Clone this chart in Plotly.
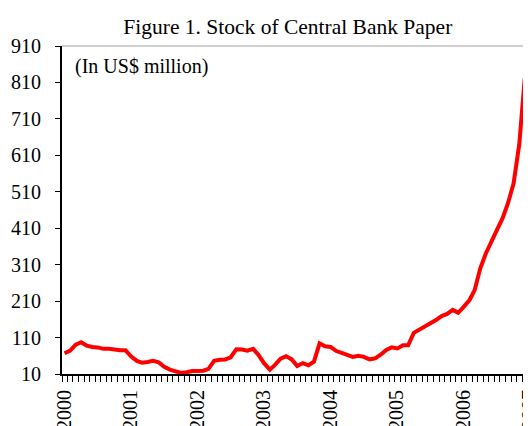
import pandas as pd
import plotly.graph_objects as go

# monthly stock, Jan 2000 - Dec 2006 (US$ million), plotted mid-month
months = pd.date_range("2000-01-01", periods=84, freq="MS") + pd.Timedelta(days=14)
stock = [
    67, 74, 90, 97, 88, 84, 83, 79, 79, 76, 75, 75,          # 2000
    58, 46, 41, 43, 46, 42, 30, 22, 16, 13, 15, 18,          # 2001
    18, 19, 24, 46, 49, 50, 56, 78, 77, 74, 79, 62,          # 2002
    39, 22, 35, 52, 59, 50, 32, 40, 34, 44, 94, 86,          # 2003
    84, 73, 68, 61, 57, 60, 57, 50, 53, 63, 76, 83,          # 2004
    80, 89, 89, 123, 131, 139, 148, 158, 169, 175, 186, 178,  # 2005
    195, 213, 240, 300, 340, 375, 405, 437, 480, 533, 640, 821,  # 2006
]
y_ticks = list(range(10, 911, 100))

FONT = "Liberation Serif, Times New Roman, serif"

fig = go.Figure()
fig.add_trace(go.Scatter(
    x=months, y=stock, mode="lines",
    line=dict(color="#ff0000", width=4),
    showlegend=False,
))

# page body adds an 8px offset, so the figure is sized to fit what is left
fig.update_layout(
    width=523, height=418,
    margin=dict(l=54, r=3, t=38, b=52),
    plot_bgcolor="white", paper_bgcolor="white",
    font=dict(family=FONT, size=20, color="black"),
    title=dict(text="Figure 1. Stock of Central Bank Paper", x=0.535, xanchor="center",
               y=0.955, yanchor="middle", font=dict(size=21.5)),
)

fig.update_xaxes(
    range=["2000-01-01", "2007-01-02"],
    tick0="2000-01-01", dtick="M12", tickformat="%Y", tickangle=-90,
    ticks="outside", ticklen=6, tickcolor="black",
    minor=dict(dtick="M1", ticks="outside", ticklen=6, tickcolor="black"),
    showline=True, linecolor="black", linewidth=2,
    showgrid=False, zeroline=False,
    automargin=False, ticklabeloverflow="allow", ticklabelshift=2,
)
fig.update_yaxes(
    range=[10, 910], tickvals=y_ticks,
    ticks="outside", ticklen=5, tickcolor="black", ticklabelstandoff=10,
    showline=True, linecolor="black", linewidth=2,
    showgrid=False, zeroline=False, automargin=False,
)

# grey frame on top and right of the plot area
fig.add_shape(type="line", xref="paper", yref="paper", x0=0, x1=1, y0=1, y1=1,
              line=dict(color="#a0a0a0", width=1))
fig.add_shape(type="line", xref="paper", yref="paper", x0=1, x1=1, y0=0, y1=1,
              line=dict(color="#a0a0a0", width=1))

fig.add_annotation(text="(In US$ million)", xref="paper", yref="paper",
                   x=0.024, y=0.936, xanchor="left", yanchor="middle",
                   showarrow=False, font=dict(size=20))

fig.write_html("out.html")
